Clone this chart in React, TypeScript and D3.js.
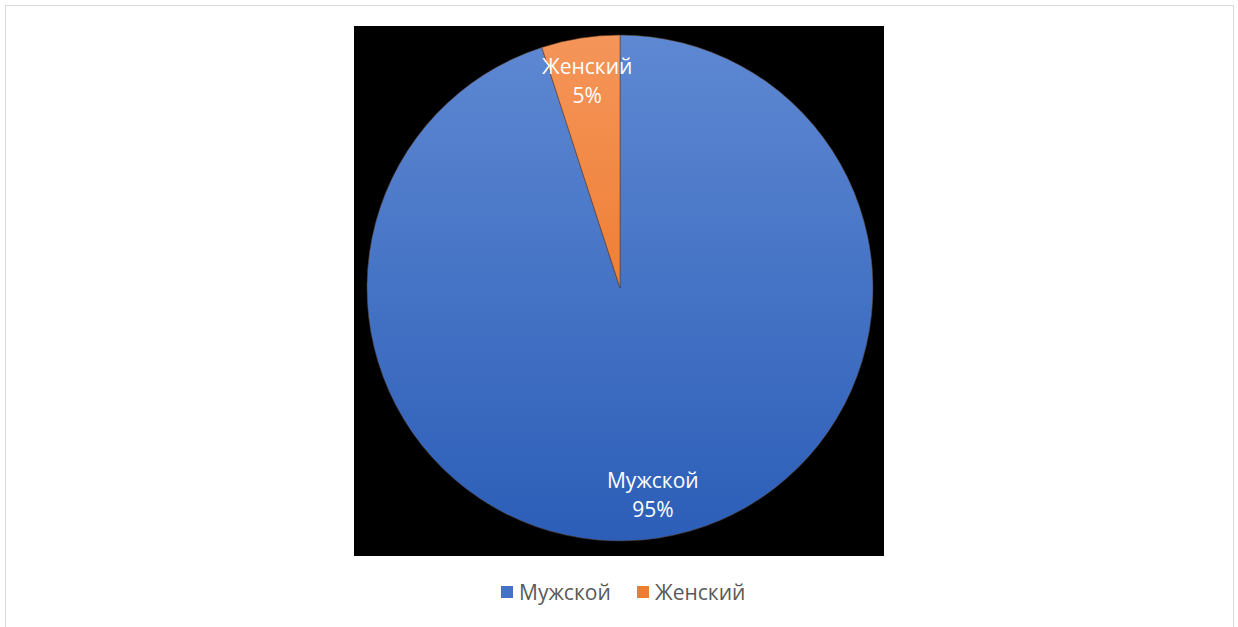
import React from "react";
import * as d3 from "d3";

const categories = ["Мужской", "Женский"];
const values = [95, 5];
const colorsTop = ["#5e88d2", "#f5955a"];
const colorsBottom = ["#2c5eb8", "#e86a12"];
const legendColors = ["#4472c4", "#ed7d31"];

export default function App() {
  const W = 1238, H = 627;
  const cx = 620, cy = 288, R = 253;
  const total = d3.sum(values);
  const pie = d3.pie<number>().sort(null).value((d) => d)(values);
  const arc = d3.arc<d3.PieArcDatum<number>>().innerRadius(0).outerRadius(R);
  const labelArc = d3.arc<d3.PieArcDatum<number>>().innerRadius(R * 0.83).outerRadius(R * 0.83);
  const font = "'Open Sans', 'Noto Sans', sans-serif";
  const legendX = [501, 637];
  return (
    <svg width={W} height={H} style={{ position: "absolute", left: 0, top: 0 }}>
      <defs>
        {values.map((_, i) => (
          <linearGradient key={i} id={`g${i}`} gradientUnits="userSpaceOnUse" x1={0} y1={-R} x2={0} y2={R}>
            <stop offset="0" stopColor={colorsTop[i]} />
            <stop offset="1" stopColor={colorsBottom[i]} />
          </linearGradient>
        ))}
      </defs>
      <rect x={0} y={0} width={W} height={H} fill="#fff" />
      <rect x={5.5} y={5.5} width={1228} height={640} fill="#fff" stroke="#d9d9d9" strokeWidth={1} />
      <rect x={354} y={26} width={530} height={530} fill="#000" />
      <g transform={`translate(${cx},${cy})`}>
        {pie.map((p, i) => (
          <path key={i} d={arc(p) || ""} fill={`url(#g${i})`} stroke="rgba(90,60,40,0.7)" strokeWidth={0.75} />
        ))}
      </g>
      <g>
        {pie.map((p, i) => {
          const [lx, ly] = labelArc.centroid(p);
          return (
            <text key={i} fill="#fff" fontFamily={font} fontSize={21} textAnchor="middle">
              <tspan x={cx + lx} y={cy + ly - 7}>{categories[i]}</tspan>
              <tspan x={cx + lx} y={cy + ly + 22}>{Math.round((values[i] / total) * 100)}%</tspan>
            </text>
          );
        })}
      </g>
      <g>
        {categories.map((c, i) => (
          <g key={i}>
            <rect x={legendX[i]} y={586} width={12} height={12} fill={legendColors[i]} />
            <text x={legendX[i] + 18} y={599.5} fill="#595959" fontFamily={font} fontSize={21}>{c}</text>
          </g>
        ))}
      </g>
    </svg>
  );
}
